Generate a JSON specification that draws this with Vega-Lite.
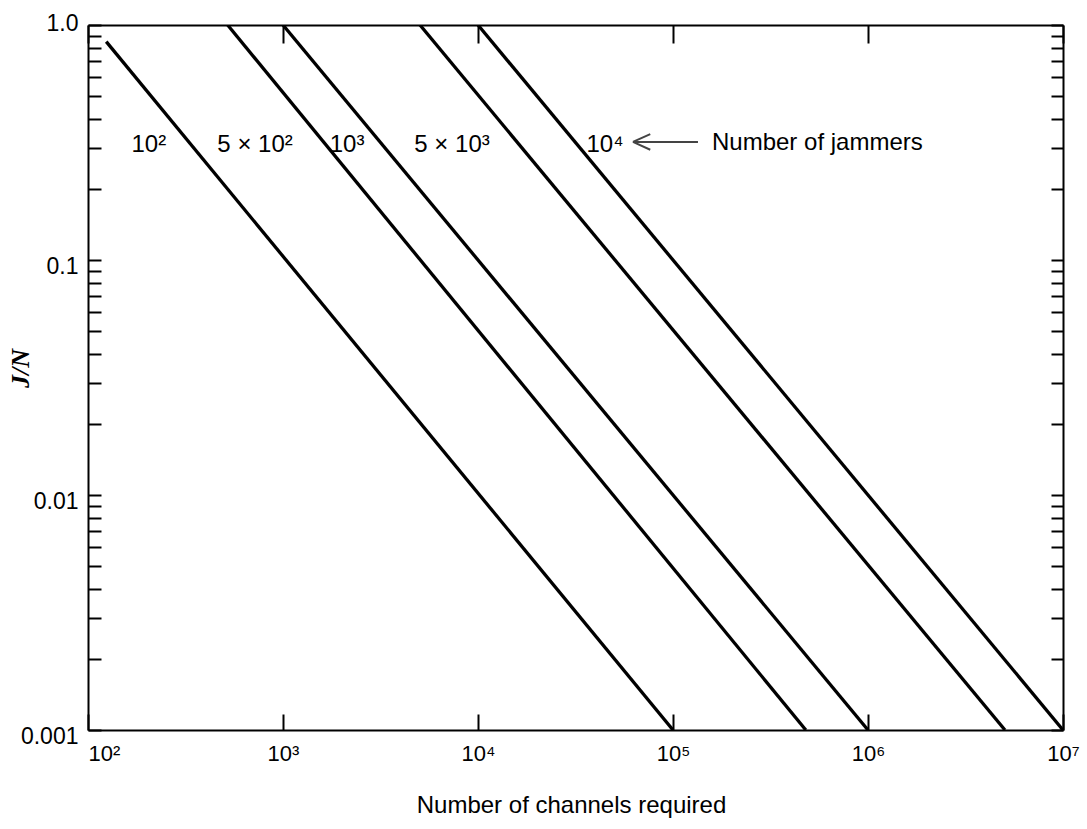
{
  "$schema": "https://vega.github.io/schema/vega-lite/v6.json",
  "width": 975,
  "height": 705,
  "autosize": {"type": "none"},
  "padding": {"left": 88, "top": 25, "right": 24, "bottom": 99},
  "background": "white",
  "config": {"view": {"stroke": null}, "font": "Liberation Sans"},
  "datasets": {
    "lines": [
      {"series": "1e2", "N": 124, "JN": 0.85},
      {"series": "1e2", "N": 100000, "JN": 0.001},
      {"series": "5e2", "N": 520, "JN": 1},
      {"series": "5e2", "N": 480000, "JN": 0.001},
      {"series": "1e3", "N": 1000, "JN": 1},
      {"series": "1e3", "N": 1000000, "JN": 0.001},
      {"series": "5e3", "N": 5040, "JN": 1},
      {"series": "5e3", "N": 5040000, "JN": 0.001},
      {"series": "1e4", "N": 10000, "JN": 1},
      {"series": "1e4", "N": 10000000, "JN": 0.001}
    ],
    "jlabels": [
      {"label": "10²", "N": 205, "JN": 0.288},
      {"label": "5 × 10²", "N": 719, "JN": 0.288},
      {"label": "10³", "N": 2130, "JN": 0.288},
      {"label": "5 × 10³", "N": 7360, "JN": 0.288},
      {"label": "10⁴", "N": 44800, "JN": 0.288}
    ],
    "note": [
      {"label": "Number of jammers", "N": 158500, "JN": 0.294}
    ],
    "arrow": [
      {"N": 62360, "N2": 134300, "JN": 0.318}
    ],
    "arrowhead": [
      {"N": 69020, "JN": 0.318}
    ]
  },
  "layer": [
    {
      "data": {"name": "lines"},
      "mark": {"type": "line", "color": "black", "strokeWidth": 3.3, "clip": true},
      "encoding": {
        "x": {
          "field": "N", "type": "quantitative",
          "scale": {"type": "log", "domain": [100, 10000000], "nice": false},
          "axis": {
            "orient": "bottom",
            "values": [100, 1000, 10000, 100000, 1000000, 10000000],
            "labelExpr": "['10²','10³','10⁴','10⁵','10⁶','10⁷'][round(log(datum.value)/LN10) - 2]",
            "labelAlign": {"condition": {"test": "datum.value == 100", "value": "left"}, "value": "center"},
            "labelFontSize": 22, "labelColor": "black", "labelPadding": 29,
            "labelOverlap": false, "labelBound": false, "labelFlush": false,
            "tickSize": -16, "tickWidth": 2, "tickColor": "black",
            "domainColor": "black", "domainWidth": 2, "grid": false,
            "title": "Number of channels required", "titleFontSize": 24, "titleFontWeight": "normal",
            "titleColor": "black", "titleX": 483, "titleY": 75, "titleBaseline": "middle", "titleAlign": "center"
          }
        },
        "y": {
          "field": "JN", "type": "quantitative",
          "scale": {"type": "log", "domain": [0.001, 1], "nice": false},
          "axis": {
            "orient": "left",
            "values": [0.001, 0.002, 0.003, 0.004, 0.005, 0.006, 0.007, 0.008, 0.009, 0.01, 0.02, 0.03, 0.04, 0.05, 0.06, 0.07, 0.08, 0.09, 0.1, 0.2, 0.3, 0.4, 0.5, 0.6, 0.7, 0.8, 0.9, 1],
            "labelExpr": "datum.value == 1 ? '1.0' : datum.value == 0.1 ? '0.1' : datum.value == 0.01 ? '0.01' : datum.value == 0.001 ? '0.001' : ''",
            "labelFontSize": 23, "labelColor": "black", "labelPadding": 23,
            "labelOffset": {"condition": {"test": "datum.value == 1", "value": -2}, "value": 6},
            "labelOverlap": false, "labelBound": false, "labelFlush": false,
            "tickSize": -13, "tickWidth": 2, "tickColor": "black",
            "domainColor": "black", "domainWidth": 2, "grid": false,
            "title": "J/N", "titleFont": "Liberation Serif", "titleFontStyle": "italic", "titleFontWeight": "bold",
            "titleFontSize": 26, "titleColor": "black", "titleAngle": -90,
            "titleX": -68, "titleY": 343, "titleBaseline": "middle", "titleAlign": "center"
          }
        },
        "detail": {"field": "series"}
      }
    },
    {
      "data": {"name": "lines"},
      "mark": {"type": "line", "opacity": 0},
      "encoding": {
        "x": {
          "field": "N", "type": "quantitative",
          "axis": {
            "orient": "top",
            "values": [100, 1000, 10000, 100000, 1000000, 10000000],
            "labels": false, "tickSize": -18, "tickWidth": 2, "tickColor": "black",
            "domainColor": "black", "domainWidth": 2, "grid": false, "title": null
          }
        },
        "y": {
          "field": "JN", "type": "quantitative",
          "axis": {
            "orient": "right",
            "values": [0.001, 0.002, 0.003, 0.004, 0.005, 0.006, 0.007, 0.008, 0.009, 0.01, 0.02, 0.03, 0.04, 0.05, 0.06, 0.07, 0.08, 0.09, 0.1, 0.2, 0.3, 0.4, 0.5, 0.6, 0.7, 0.8, 0.9, 1],
            "labels": false, "tickSize": -12, "tickWidth": 2, "tickColor": "black",
            "domainColor": "black", "domainWidth": 2, "grid": false, "title": null
          }
        },
        "detail": {"field": "series"}
      }
    },
    {
      "data": {"name": "jlabels"},
      "mark": {"type": "text", "fontSize": 24, "align": "center", "baseline": "alphabetic", "color": "black"},
      "encoding": {
        "x": {"field": "N", "type": "quantitative", "axis": null},
        "y": {"field": "JN", "type": "quantitative", "axis": null},
        "text": {"field": "label"}
      }
    },
    {
      "data": {"name": "note"},
      "mark": {"type": "text", "fontSize": 24, "align": "left", "baseline": "alphabetic", "color": "black"},
      "encoding": {
        "x": {"field": "N", "type": "quantitative", "axis": null},
        "y": {"field": "JN", "type": "quantitative", "axis": null},
        "text": {"field": "label"}
      }
    },
    {
      "data": {"name": "arrow"},
      "mark": {"type": "rule", "color": "#444", "strokeWidth": 2},
      "encoding": {
        "x": {"field": "N", "type": "quantitative", "axis": null},
        "x2": {"field": "N2"},
        "y": {"field": "JN", "type": "quantitative", "axis": null}
      }
    },
    {
      "data": {"name": "arrowhead"},
      "mark": {"type": "point", "shape": "M-1,0L1,-0.9M-1,0L1,0.9", "filled": false, "size": 300, "strokeWidth": 2, "color": "#444", "opacity": 1},
      "encoding": {
        "x": {"field": "N", "type": "quantitative", "axis": null},
        "y": {"field": "JN", "type": "quantitative", "axis": null}
      }
    }
  ],
  "resolve": {"axis": {"x": "independent", "y": "independent"}}
}
